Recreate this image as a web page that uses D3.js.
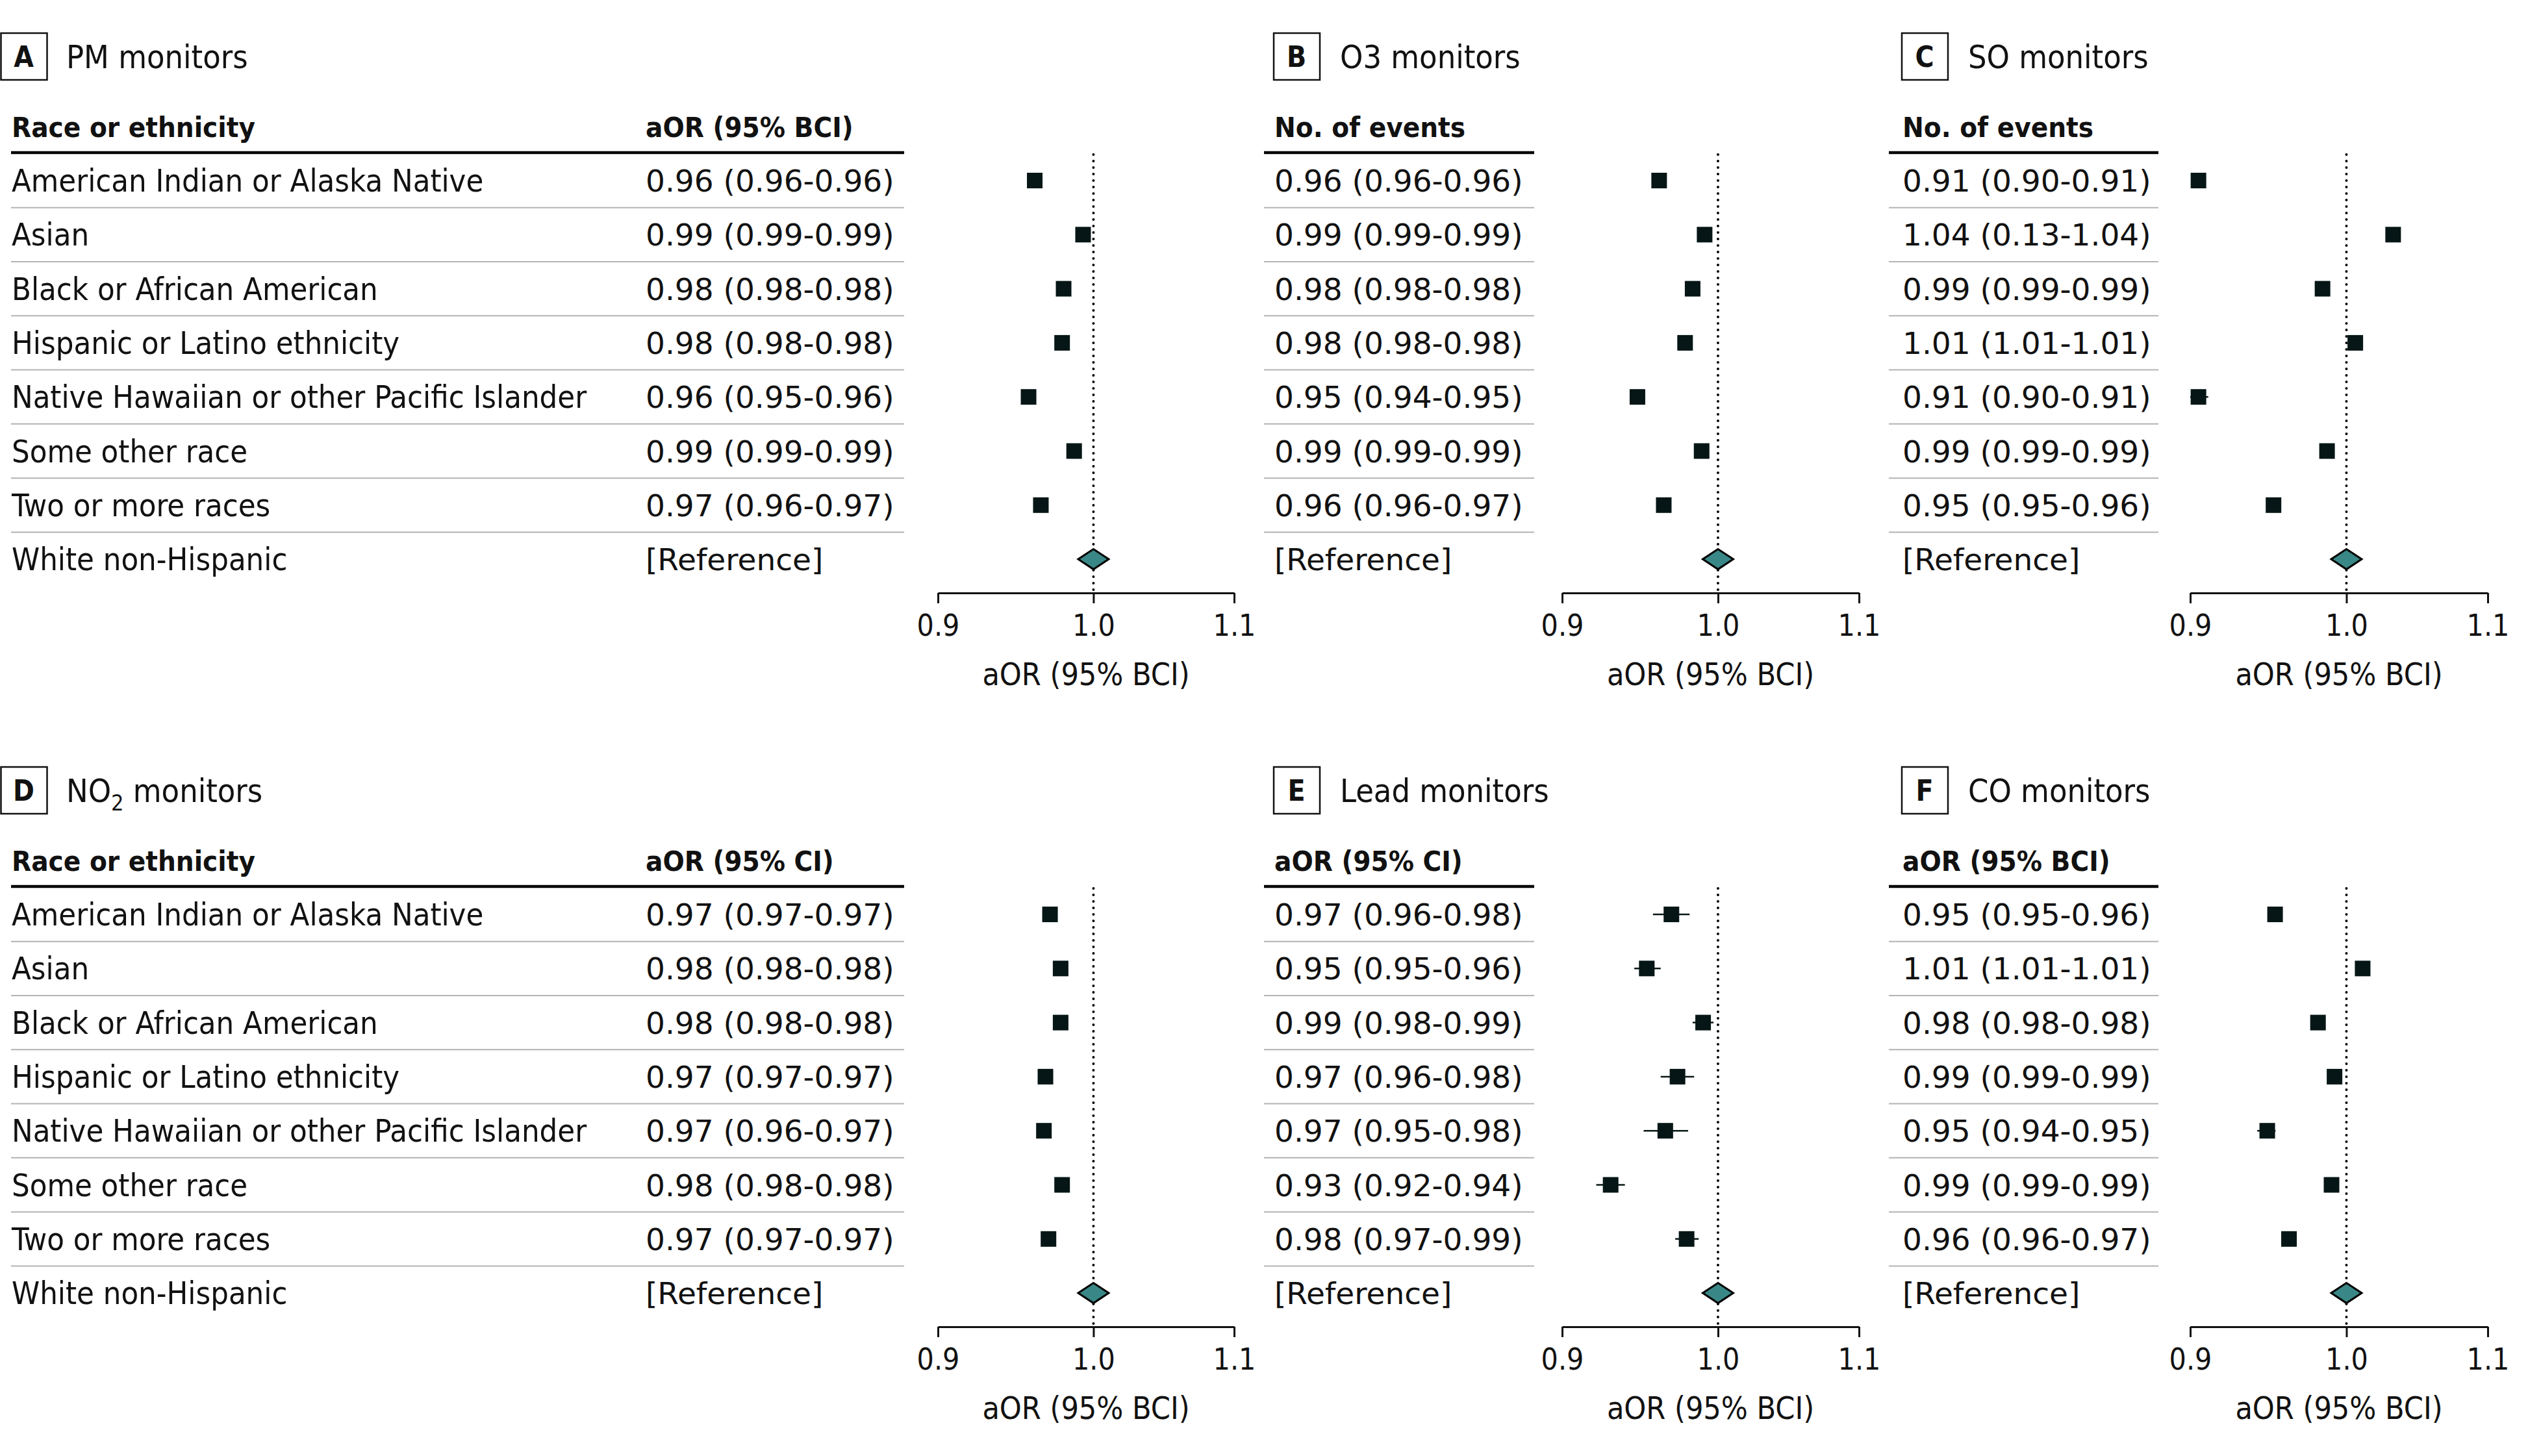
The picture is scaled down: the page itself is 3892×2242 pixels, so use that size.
<!DOCTYPE html>
<html><head><meta charset="utf-8">
<script src="https://cdn.jsdelivr.net/npm/d3@7"></script>
<style>
html,body{margin:0;padding:0;background:#fff;}
svg text{font-family:'DejaVu Sans Condensed','DejaVu Sans',sans-serif;font-stretch:condensed;fill:#111;}
svg text.val{font-family:'DejaVu Sans',sans-serif;font-stretch:normal;}
</style></head><body>
<svg id="chart" width="3892" height="2242"></svg>
<script>
// ---------- data ----------
const raceCategories = [
  "American Indian or Alaska Native",
  "Asian",
  "Black or African American",
  "Hispanic or Latino ethnicity",
  "Native Hawaiian or other Pacific Islander",
  "Some other race",
  "Two or more races",
  "White non-Hispanic"
];
const referenceLabel = "[Reference]";
const referenceValue = 1.0;
const tickValues = [0.9, 1.0, 1.1];
const axisTitle = "aOR (95% BCI)";

// A: PM monitors
const pmText = ["0.96 (0.96-0.96)","0.99 (0.99-0.99)","0.98 (0.98-0.98)","0.98 (0.98-0.98)","0.96 (0.95-0.96)","0.99 (0.99-0.99)","0.97 (0.96-0.97)"];
const pmEst  = [0.961, 0.993, 0.980, 0.979, 0.957, 0.987, 0.965];
const pmLow  = [0.959, 0.991, 0.978, 0.977, 0.955, 0.985, 0.963];
const pmHigh = [0.963, 0.995, 0.982, 0.981, 0.959, 0.989, 0.967];

// B: O3 monitors
const o3Text = ["0.96 (0.96-0.96)","0.99 (0.99-0.99)","0.98 (0.98-0.98)","0.98 (0.98-0.98)","0.95 (0.94-0.95)","0.99 (0.99-0.99)","0.96 (0.96-0.97)"];
const o3Est  = [0.961, 0.991, 0.983, 0.978, 0.947, 0.989, 0.964];
const o3Low  = [0.959, 0.989, 0.981, 0.976, 0.945, 0.987, 0.962];
const o3High = [0.963, 0.993, 0.985, 0.980, 0.949, 0.991, 0.966];

// C: SO monitors
const soText = ["0.91 (0.90-0.91)","1.04 (0.13-1.04)","0.99 (0.99-0.99)","1.01 (1.01-1.01)","0.91 (0.90-0.91)","0.99 (0.99-0.99)","0.95 (0.95-0.96)"];
const soEst  = [0.905, 1.032, 0.984, 1.006, 0.905, 0.987, 0.952];
const soLow  = [0.903, 1.030, 0.982, 1.004, 0.900, 0.985, 0.950];
const soHigh = [0.908, 1.034, 0.986, 1.008, 0.911, 0.989, 0.954];

// D: NO2 monitors
const no2Text = ["0.97 (0.97-0.97)","0.98 (0.98-0.98)","0.98 (0.98-0.98)","0.97 (0.97-0.97)","0.97 (0.96-0.97)","0.98 (0.98-0.98)","0.97 (0.97-0.97)"];
const no2Est  = [0.971, 0.978, 0.978, 0.968, 0.967, 0.979, 0.970];
const no2Low  = [0.969, 0.976, 0.976, 0.966, 0.965, 0.977, 0.968];
const no2High = [0.973, 0.980, 0.980, 0.970, 0.969, 0.981, 0.972];

// E: Lead monitors
const leadText = ["0.97 (0.96-0.98)","0.95 (0.95-0.96)","0.99 (0.98-0.99)","0.97 (0.96-0.98)","0.97 (0.95-0.98)","0.93 (0.92-0.94)","0.98 (0.97-0.99)"];
const leadEst  = [0.969, 0.953, 0.990, 0.973, 0.965, 0.930, 0.979];
const leadLow  = [0.957, 0.945, 0.983, 0.962, 0.951, 0.921, 0.9715];
const leadHigh = [0.981, 0.962, 0.997, 0.984, 0.980, 0.939, 0.987];

// F: CO monitors
const coText = ["0.95 (0.95-0.96)","1.01 (1.01-1.01)","0.98 (0.98-0.98)","0.99 (0.99-0.99)","0.95 (0.94-0.95)","0.99 (0.99-0.99)","0.96 (0.96-0.97)"];
const coEst  = [0.953, 1.011, 0.981, 0.992, 0.948, 0.990, 0.962];
const coLow  = [0.950, 1.009, 0.979, 0.990, 0.9416, 0.988, 0.960];
const coHigh = [0.956, 1.013, 0.983, 0.994, 0.9533, 0.992, 0.964];

// ---------- panels ----------
const panels = [
  {letter:"A", title:"PM monitors", header:"aOR (95% BCI)", showRace:true, col:0, row:0, text:pmText, est:pmEst, lo:pmLow, hi:pmHigh},
  {letter:"B", title:"O3 monitors", header:"No. of events", showRace:false, col:1, row:0, text:o3Text, est:o3Est, lo:o3Low, hi:o3High},
  {letter:"C", title:"SO monitors", header:"No. of events", showRace:false, col:2, row:0, text:soText, est:soEst, lo:soLow, hi:soHigh},
  {letter:"D", title:"NO2", sub:true, header:"aOR (95% CI)", showRace:true, col:0, row:1, text:no2Text, est:no2Est, lo:no2Low, hi:no2High},
  {letter:"E", title:"Lead monitors", header:"aOR (95% CI)", showRace:false, col:1, row:1, text:leadText, est:leadEst, lo:leadLow, hi:leadHigh},
  {letter:"F", title:"CO monitors", header:"aOR (95% BCI)", showRace:false, col:2, row:1, text:coText, est:coEst, lo:coLow, hi:coHigh}
];

// layout
const colLayout = [
  {box:1.5, title:102, race:18, value:994, line0:17, line1:1392, ax0:1444, ax1:1900},
  {box:1961, title:2063, race:null, value:1962, line0:1946, line1:2362, ax0:2405, ax1:2862},
  {box:2928, title:3030, race:null, value:2929, line0:2908, line1:3323, ax0:3372, ax1:3830}
];
const rowOffset = [0, 1130];
const rowStep = 83.3, row0 = 278;

const svg = d3.select("#chart");
const ink = "#111";

panels.forEach(p => {
  const L = colLayout[p.col];
  const g = svg.append("g").attr("transform", `translate(0,${rowOffset[p.row]})`);
  const yc = i => row0 + i * rowStep;

  // letter box
  g.append("rect").attr("x", L.box).attr("y", 51).attr("width", 71).attr("height", 72)
    .attr("fill", "none").attr("stroke", ink).attr("stroke-width", 2.5);
  g.append("text").attr("x", L.box + 35).attr("y", 103).attr("text-anchor", "middle")
    .attr("font-size", 44).attr("font-weight", "bold").text(p.letter);

  // title
  const t = g.append("text").attr("x", L.title).attr("y", 105).attr("font-size", 50);
  if (p.sub) {
    t.append("tspan").text("NO");
    t.append("tspan").attr("font-size", 34).attr("dy", 13).text("2");
    t.append("tspan").attr("dy", -13).text(" monitors");
  } else {
    t.text(p.title);
  }

  // headers
  if (p.showRace) {
    g.append("text").attr("x", L.race).attr("y", 211).attr("font-size", 43.5)
      .attr("font-weight", "bold").text("Race or ethnicity");
  }
  g.append("text").attr("x", L.value).attr("y", 211).attr("font-size", 43.5)
    .attr("font-weight", "bold").text(p.header);

  // thick header rule
  g.append("line").attr("x1", L.line0).attr("x2", L.line1).attr("y1", 235).attr("y2", 235)
    .attr("stroke", "#000").attr("stroke-width", 4.5);

  // separators
  g.selectAll("line.sep").data(d3.range(7)).join("line").attr("class", "sep")
    .attr("x1", L.line0).attr("x2", L.line1)
    .attr("y1", i => yc(i) + rowStep / 2).attr("y2", i => yc(i) + rowStep / 2)
    .attr("stroke", "#b3b3b3").attr("stroke-width", 2);

  // row texts
  const valTexts = p.text.concat([referenceLabel]);
  if (p.showRace) {
    g.selectAll("text.race").data(raceCategories).join("text").attr("class", "race")
      .attr("x", L.race).attr("y", (d, i) => yc(i) + 17).attr("font-size", 48.5).text(d => d);
  }
  g.selectAll("text.val").data(valTexts).join("text").attr("class", "val")
    .attr("x", L.value).attr("y", (d, i) => yc(i) + 17).attr("font-size", 47).text(d => d);

  // scale + axis
  const x = d3.scaleLog().domain([0.9, 1.1]).range([L.ax0, L.ax1]);
  const axisY = 913;

  // dotted reference line
  g.append("line").attr("x1", x(referenceValue)).attr("x2", x(referenceValue))
    .attr("y1", 238).attr("y2", axisY)
    .attr("stroke", "#000").attr("stroke-width", 4)
    .attr("stroke-dasharray", "0,10").attr("stroke-linecap", "round");

  const ax = g.append("g").attr("transform", `translate(0,${axisY})`)
    .call(d3.axisBottom(x).tickValues(tickValues).tickFormat(d3.format(".1f"))
      .tickSize(16).tickSizeOuter(0).tickPadding(17));
  ax.select(".domain").attr("stroke", ink).attr("stroke-width", 3);
  ax.selectAll(".tick line").attr("stroke", ink).attr("stroke-width", 3);
  ax.selectAll(".tick text").attr("font-size", 46).attr("fill", ink)
    .style("font-family", "'DejaVu Sans Condensed','DejaVu Sans',sans-serif");

  g.append("text").attr("x", (L.ax0 + L.ax1) / 2).attr("y", 1055)
    .attr("text-anchor", "middle").attr("font-size", 48).text(axisTitle);

  // CI lines
  const rows = p.est.map((e, i) => ({e, lo: p.lo[i], hi: p.hi[i], i}));
  g.selectAll("line.ci").data(rows).join("line").attr("class", "ci")
    .attr("x1", d => x(d.lo)).attr("x2", d => x(d.hi))
    .attr("y1", d => yc(d.i)).attr("y2", d => yc(d.i))
    .attr("stroke", "#0a1717").attr("stroke-width", 2.5);

  // squares
  const s = 24;
  g.selectAll("rect.pt").data(rows).join("rect").attr("class", "pt")
    .attr("x", d => x(d.e) - s / 2).attr("y", d => yc(d.i) - s / 2)
    .attr("width", s).attr("height", s).attr("fill", "#061616");

  // reference diamond
  const cx = x(referenceValue), cy = yc(7);
  g.append("path")
    .attr("d", `M${cx - 23.5},${cy} L${cx},${cy - 15.5} L${cx + 23.5},${cy} L${cx},${cy + 15.5} Z`)
    .attr("fill", "#3a8787").attr("stroke", "#000").attr("stroke-width", 3);
});
</script>
</body></html>
